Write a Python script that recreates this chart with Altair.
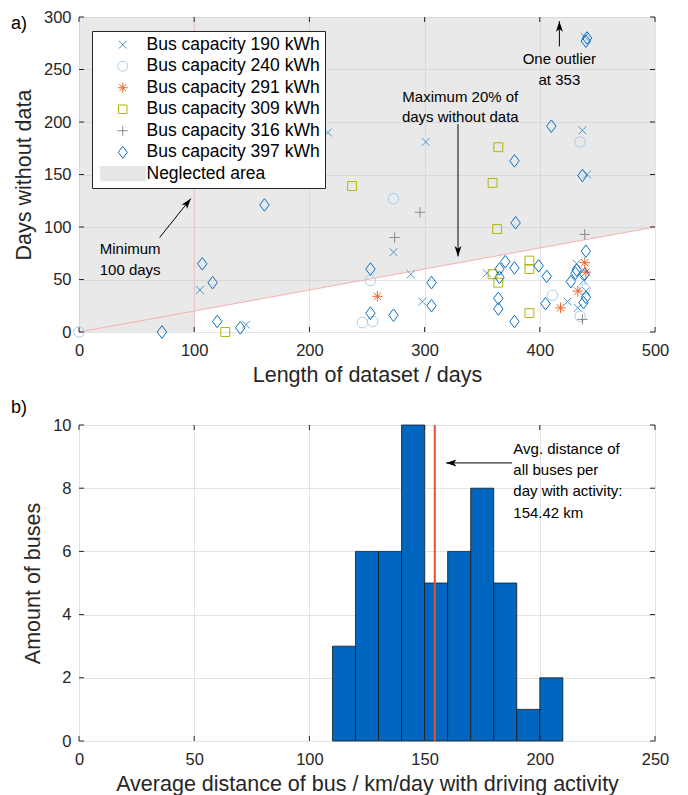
import altair as alt
import pandas as pd

FONT = "Liberation Sans"
TXT = "#262626"

# ---------------- data: panel a) ----------------
cap190_x = [105, 145, 216, 301, 273, 288, 298, 354, 437, 441, 439, 432, 424, 433, 438, 440]
cap190_y = [40, 7, 190, 181, 76, 55, 29, 56, 192, 150, 281, 65, 29, 23, 49, 39]
cap240_x = [0, 273, 253, 246, 255, 435, 411, 435, 439]
cap240_y = [0, 127, 49, 9, 10, 181, 35, 15, 41]
cap291_x = [259, 418, 433, 439, 440]
cap291_y = [34, 23, 39, 66, 57]
cap309_x = [127, 237, 364, 359, 363, 391, 391, 391, 359, 364]
cap309_y = [0, 139, 176, 142, 98, 68, 60, 18, 55, 47]
cap316_x = [296, 274, 439, 437]
cap316_y = [114, 90, 93, 12]
cap397_x = [72, 161, 107, 116, 120, 140, 253, 253, 273, 306, 306, 410, 378, 437, 379,
            440, 441, 440, 370, 378, 399, 406, 365, 365, 364, 364, 378, 405, 427, 431,
            438, 440, 439, 432]
cap397_y = [0, 121, 65, 47, 10, 4, 60, 18, 16, 47, 25, 196, 163, 149, 104,
            277, 280, 77, 67, 61, 63, 53, 60, 52, 32, 22, 10, 27, 48, 56,
            28, 33, 55, 59]

series_names = ["Bus capacity 190 kWh", "Bus capacity 240 kWh", "Bus capacity 291 kWh",
                "Bus capacity 309 kWh", "Bus capacity 316 kWh", "Bus capacity 397 kWh",
                "Neglected area"]
series_colors = ["#4f96d0", "#a9cdec", "#e8662c", "#b4b400", "#8a8a8a", "#0a6fc2", "#e6e6e6"]
series_fills = ["transparent"] * 6 + ["#e6e6e6"]
series_shapes = [
    "M-0.75,-0.75L0.75,0.75M-0.75,0.75L0.75,-0.75",
    "M1,0A1,1,0,1,1,-1,0A1,1,0,1,1,1,0Z",
    "M-1,0L1,0M0,-1L0,1M-0.7,-0.7L0.7,0.7M-0.7,0.7L0.7,-0.7",
    "M-0.85,-0.85H0.85V0.85H-0.85Z",
    "M-1,0L1,0M0,-1L0,1",
    "M0,-1.2L0.9,0L0,1.2L-0.9,0Z",
    "M-4.5,-1.45H4.5V1.45H-4.5Z",
]

# neglected area limits
min_days = [100]
max_share = [0.2]
x_max = 500
y_max = 300

x_ticks_a = [0, 100, 200, 300, 400, 500]
y_ticks_a = [0, 50, 100, 150, 200, 250, 300]

# annotations a)
ann_a_text = ["Minimum", "100 days", "Maximum 20% of", "days without data", "One outlier", "at 353"]
ann_a_x = [18, 18, 331, 331, 417, 417]
ann_a_y = [79, 59, 224, 205, 260, 240]
ann_a_align = ["left", "left", "center", "center", "center", "center"]
arrow_a_x1 = [70, 329, 417]
arrow_a_y1 = [90, 198, 272]
arrow_a_x2 = [97, 329, 417]
arrow_a_y2 = [127, 72, 296]
arrow_a_angle = [38, 180, 0]

# ---------------- data: panel b) ----------------
bin_start = [110, 120, 130, 140, 150, 160, 170, 180, 190, 200]
bin_end = [120, 130, 140, 150, 160, 170, 180, 190, 200, 210]
bin_count = [3, 6, 6, 10, 5, 6, 8, 5, 1, 2]
avg_distance = [154.42]
x_ticks_b = [0, 50, 100, 150, 200, 250]
y_ticks_b = [0, 2, 4, 6, 8, 10]
ann_b_text = ["Avg. distance of", "all buses per", "day with activity:", "154.42 km"]
ann_b_x = [188.5, 188.5, 188.5, 188.5]
ann_b_y = [9.24, 8.58, 7.91, 7.22]
arrow_b_x1 = [188.0]
arrow_b_x2 = [159.3]
arrow_b_y = [8.8]

ARROW_HEAD = "M0,0L0.5,1.5L0,1.1L-0.5,1.5Z"
ANN_FS = 15
TICK_FS = 16.5
TITLE_FS = 21.5

W, H = 576, 315


def axis(values, title, label_pad=8, title_pad=8):
    return alt.Axis(values=values, title=title, grid=True, gridColor="#e3e3e3",
                    gridWidth=1, domain=False, ticks=False, labelFont=FONT,
                    labelFontSize=TICK_FS, labelColor=TXT, titleFont=FONT,
                    titleFontSize=TITLE_FS, titleFontWeight="normal", titleColor=TXT,
                    labelPadding=label_pad, titlePadding=title_pad,
                    labelFlush=False, labelOverlap=False)


def inner_ticks(xvals, yvals, xs, ys, w, h):
    dx = pd.DataFrame({"v": xvals})
    dy = pd.DataFrame({"v": yvals})
    t = 5
    bx = alt.Chart(dx).mark_rule(color=TXT, strokeWidth=1).encode(
        x=alt.X("v:Q", scale=xs), y=alt.value(h), y2=alt.value(h - t))
    tx = alt.Chart(dx).mark_rule(color=TXT, strokeWidth=1).encode(
        x=alt.X("v:Q", scale=xs), y=alt.value(0), y2=alt.value(t))
    ly = alt.Chart(dy).mark_rule(color=TXT, strokeWidth=1).encode(
        y=alt.Y("v:Q", scale=ys), x=alt.value(0), x2=alt.value(t))
    ry = alt.Chart(dy).mark_rule(color=TXT, strokeWidth=1).encode(
        y=alt.Y("v:Q", scale=ys), x=alt.value(w), x2=alt.value(w - t))
    return [bx, tx, ly, ry]


# ---------------- panel a ----------------
xs_a = alt.Scale(domain=[0, x_max], nice=False, zero=False)
ys_a = alt.Scale(domain=[0, y_max], nice=False, zero=False)

rows = []
for name, xs, ys in zip(series_names[:6],
                        [cap190_x, cap240_x, cap291_x, cap309_x, cap316_x, cap397_x],
                        [cap190_y, cap240_y, cap291_y, cap309_y, cap316_y, cap397_y]):
    for a, b in zip(xs, ys):
        rows.append({"len": a, "miss": b, "series": name})
pts_df = pd.DataFrame(rows)

leg = alt.Legend(orient="none", legendX=13, legendY=14, title=None,
                 labelFont=FONT, labelFontSize=17.5, labelColor="black",
                 strokeColor=TXT, fillColor="white", padding=5,
                 symbolOffset=17, labelOffset=15, rowPadding=2.5,
                 symbolStrokeWidth=1, symbolSize=100, labelLimit=400)

sc_stroke = alt.Scale(domain=series_names, range=series_colors)
sc_fill = alt.Scale(domain=series_names, range=series_fills)
sc_shape = alt.Scale(domain=series_names, range=series_shapes)

neg_rect = alt.Chart(pd.DataFrame({"x0": [0], "x1": min_days, "y0": [0], "y1": [y_max]})).mark_rect(
    fill="#c8c8c8", opacity=0.4).encode(
    x=alt.X("x0:Q", scale=xs_a, axis=axis(x_ticks_a, "Length of dataset / days", 10, 6)),
    x2="x1:Q",
    y=alt.Y("y0:Q", scale=ys_a, axis=axis(y_ticks_a, "Days without data", 8, 8)),
    y2="y1:Q")

area_x = [min_days[0], x_max]
area_df = pd.DataFrame({"x": area_x, "lo": [v * max_share[0] for v in area_x], "hi": [y_max, y_max]})
neg_area = alt.Chart(area_df).mark_area(fill="#c8c8c8", opacity=0.4).encode(
    x=alt.X("x:Q", scale=xs_a), y=alt.Y("lo:Q", scale=ys_a), y2="hi:Q")

diag_df = pd.DataFrame({"x": [0, x_max], "y": [0, x_max * max_share[0]]})
diag = alt.Chart(diag_df).mark_line(color="#f3b0b0", strokeWidth=1).encode(
    x=alt.X("x:Q", scale=xs_a), y=alt.Y("y:Q", scale=ys_a))
vline = alt.Chart(pd.DataFrame({"x": min_days, "y0": [0], "y1": [y_max]})).mark_rule(
    color="#f5c0c0", strokeWidth=1).encode(
    x=alt.X("x:Q", scale=xs_a), y=alt.Y("y0:Q", scale=ys_a), y2="y1:Q")

points = alt.Chart(pts_df).mark_point(size=110, strokeWidth=1, opacity=1).encode(
    x=alt.X("len:Q", scale=xs_a),
    y=alt.Y("miss:Q", scale=ys_a),
    stroke=alt.Stroke("series:N", scale=sc_stroke, legend=leg),
    fill=alt.Fill("series:N", scale=sc_fill, legend=leg),
    shape=alt.Shape("series:N", scale=sc_shape, legend=leg),
)

ann_df = pd.DataFrame({"t": ann_a_text, "x": ann_a_x, "y": ann_a_y, "al": ann_a_align})
ann_left = alt.Chart(ann_df[ann_df["al"] == "left"]).mark_text(
    font=FONT, fontSize=ANN_FS, align="left", baseline="middle", color="black").encode(
    x=alt.X("x:Q", scale=xs_a), y=alt.Y("y:Q", scale=ys_a), text="t:N")
ann_center = alt.Chart(ann_df[ann_df["al"] == "center"]).mark_text(
    font=FONT, fontSize=ANN_FS, align="center", baseline="middle", color="black").encode(
    x=alt.X("x:Q", scale=xs_a), y=alt.Y("y:Q", scale=ys_a), text="t:N")

arr_df = pd.DataFrame({"x1": arrow_a_x1, "y1": arrow_a_y1, "x2": arrow_a_x2,
                       "y2": arrow_a_y2, "ang": arrow_a_angle})
arr_lines = alt.Chart(arr_df).mark_rule(color="black", strokeWidth=1).encode(
    x=alt.X("x1:Q", scale=xs_a), y=alt.Y("y1:Q", scale=ys_a), x2="x2:Q", y2="y2:Q")
arr_heads = alt.Chart(arr_df).mark_point(shape=ARROW_HEAD, filled=True, color="black",
                                          size=196, opacity=1).encode(
    x=alt.X("x2:Q", scale=xs_a), y=alt.Y("y2:Q", scale=ys_a),
    angle=alt.Angle("ang:Q", scale=None))

label_a = alt.Chart(pd.DataFrame({"t": ["a)"]})).mark_text(
    font=FONT, fontSize=18, align="left", baseline="middle", color="black").encode(
    text="t:N", x=alt.value(-68), y=alt.value(7))

panel_a = alt.layer(
    neg_rect, neg_area, diag, vline,
    *inner_ticks(x_ticks_a, y_ticks_a, xs_a, ys_a, W, H),
    arr_lines, arr_heads, ann_left, ann_center, points, label_a,
).properties(width=W, height=H)

# ---------------- panel b ----------------
xs_b = alt.Scale(domain=[0, 250], nice=False, zero=False)
ys_b = alt.Scale(domain=[0, 10], nice=False, zero=False)
hist_df = pd.DataFrame({"s": bin_start, "e": bin_end, "c": bin_count})

bars = alt.Chart(hist_df).mark_bar(color="#0066bf", stroke="#1a1a1a", strokeWidth=0.8,
                                   opacity=1).encode(
    x=alt.X("s:Q", scale=xs_b,
            axis=axis(x_ticks_b, "Average distance of bus / km/day with driving activity", 10, 6)),
    x2="e:Q",
    y=alt.Y("c:Q", scale=ys_b, axis=axis(y_ticks_b, "Amount of buses", 8, 8)),
    y2=alt.datum(0),
)
avg_line = alt.Chart(pd.DataFrame({"a": avg_distance, "y0": [0], "y1": [10]})).mark_rule(
    color="#e5522e", strokeWidth=2).encode(
    x=alt.X("a:Q", scale=xs_b), y=alt.Y("y0:Q", scale=ys_b), y2="y1:Q")

annb_df = pd.DataFrame({"t": ann_b_text, "x": ann_b_x, "y": ann_b_y})
annb = alt.Chart(annb_df).mark_text(font=FONT, fontSize=ANN_FS, align="left",
                                    baseline="middle", color="black").encode(
    x=alt.X("x:Q", scale=xs_b), y=alt.Y("y:Q", scale=ys_b), text="t:N")
arrb_df = pd.DataFrame({"x1": arrow_b_x1, "x2": arrow_b_x2, "y": arrow_b_y, "ang": [270]})
arrb_line = alt.Chart(arrb_df).mark_rule(color="black", strokeWidth=1).encode(
    x=alt.X("x1:Q", scale=xs_b), x2="x2:Q", y=alt.Y("y:Q", scale=ys_b))
arrb_head = alt.Chart(arrb_df).mark_point(shape=ARROW_HEAD, filled=True, color="black",
                                           size=196, opacity=1).encode(
    x=alt.X("x2:Q", scale=xs_b), y=alt.Y("y:Q", scale=ys_b),
    angle=alt.Angle("ang:Q", scale=None))

label_b = alt.Chart(pd.DataFrame({"t": ["b)"]})).mark_text(
    font=FONT, fontSize=18, align="left", baseline="middle", color="black").encode(
    text="t:N", x=alt.value(-68), y=alt.value(-17))

panel_b = alt.layer(
    bars, avg_line, *inner_ticks(x_ticks_b, y_ticks_b, xs_b, ys_b, W, 316),
    arrb_line, arrb_head, annb, label_b,
).properties(width=W, height=316)

chart = alt.vconcat(panel_a, panel_b, spacing=11).resolve_scale(
    x="independent", y="independent", stroke="independent", fill="independent",
    shape="independent"
).properties(
    padding={"left": 10, "top": 8, "right": 5, "bottom": 5}
).configure_view(
    stroke=TXT, strokeWidth=1
).configure(background="white")

chart.save("out.html", embed_options={"renderer": "svg", "actions": False})
